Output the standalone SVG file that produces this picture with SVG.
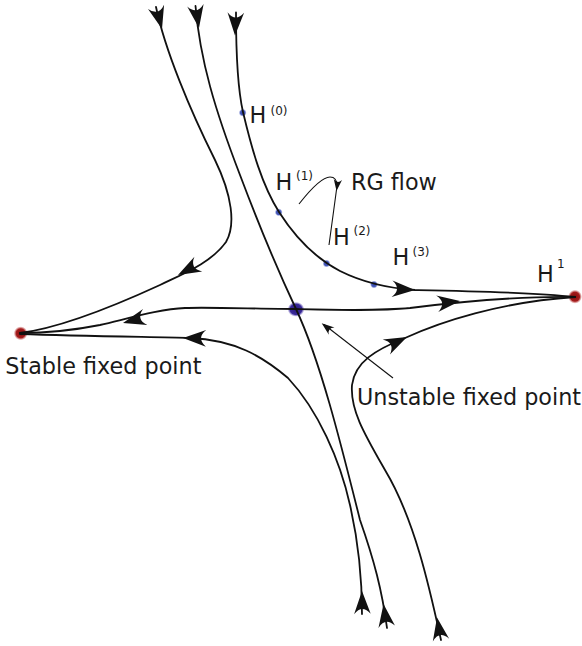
<svg xmlns="http://www.w3.org/2000/svg" xmlns:xlink="http://www.w3.org/1999/xlink" width="582" height="646" viewBox="0 0 582 646">
<style>
.flow{fill:none;stroke:#111;stroke-width:1.8;stroke-linecap:round}
.thin{fill:none;stroke:#111;stroke-width:1.1}
.head{fill:#111}
text{font-family:"DejaVu Sans","Noto Sans",sans-serif;fill:#1a1a1a}
.lbl{font-size:22.3px}
.sup{font-size:12px}
</style>
<defs>
<path id="ah" d="M0,0 L-23,-8.3 Q-13,0 -23,8.3 Z"/>
<radialGradient id="gRed">
<stop offset="0" stop-color="#8a0e0e"/>
<stop offset="0.65" stop-color="#a41c1c"/>
<stop offset="1" stop-color="#c85050" stop-opacity="0"/>
</radialGradient>
<radialGradient id="gBlue">
<stop offset="0" stop-color="#2a1a80"/>
<stop offset="0.7" stop-color="#3a2a9a"/>
<stop offset="1" stop-color="#7060c0" stop-opacity="0"/>
</radialGradient>
<radialGradient id="gSmall">
<stop offset="0" stop-color="#3448b0"/>
<stop offset="0.6" stop-color="#4a5cbc"/>
<stop offset="1" stop-color="#8a98d8" stop-opacity="0"/>
</radialGradient>
</defs>
<rect width="582" height="646" fill="#fff"/>

<g id="fp-stable"><circle cx="20.7" cy="333.3" r="7" fill="url(#gRed)"/></g>
<g id="fp-h1"><circle cx="575" cy="296.7" r="7" fill="url(#gRed)"/></g>
<g id="fp-unstable"><ellipse cx="296" cy="309.3" rx="8.5" ry="7.5" fill="url(#gBlue)"/></g>
<g id="pt-h0"><circle cx="242.7" cy="112.7" r="4" fill="url(#gSmall)"/></g>
<g id="pt-h1"><circle cx="278.7" cy="212.3" r="4" fill="url(#gSmall)"/></g>
<g id="pt-h2"><circle cx="326.5" cy="263.5" r="4" fill="url(#gSmall)"/></g>
<g id="pt-h3"><circle cx="374" cy="284.5" r="4" fill="url(#gSmall)"/></g>

<g id="connectors">
<path class="flow" d="M156,7 C165,50 190,110 215,160 C232,195 236,225 226,242 C212,262 185,273 160,285 C110,308 60,328 20,333"/>
<path class="flow" d="M195.5,6 C200,60 215,110 240,175 C260,228 280,275 296,309 C320,360 340,440 360,520 C374,560 382,590 387,628"/>
<path class="flow" d="M236,12.5 C236,60 238,90 243,112 C252,150 262,185 279,212 C295,237 315,258 340,271 C360,281 385,288 415,290 C470,291 530,292 575,297"/>
<path class="flow" d="M296,309 C260,309 210,307 185,308 C160,309 130,318 100,325 C70,331 40,333 20,333"/>
<path class="flow" d="M296,309 C340,310 380,311 410,308 C450,303 520,296 575,297"/>
<path class="flow" d="M20,334 C80,336 150,337 190,338 C235,340 262,356 288,378 C318,410 340,460 350,505 C358,540 362,575 362,614"/>
<path class="flow" d="M441,640 C430,590 415,520 385,470 C365,435 350,410 352,385 C355,362 375,350 405,338 C440,322 500,302 575,297"/>
<path class="thin" d="M299,204 C310,190 322,177 330,177 C336,177 337,182 337,186 L329,245"/>
<use href="#ah" class="head" transform="translate(336.5,191) rotate(97) scale(0.5)"/>
<path class="thin" d="M393,378 L324,324.5"/>
<use href="#ah" class="head" transform="translate(321.7,323.3) rotate(218) scale(0.55)"/>
<use href="#ah" class="head" transform="translate(162,29) rotate(75)"/>
<use href="#ah" class="head" transform="translate(199,28) rotate(81)"/>
<use href="#ah" class="head" transform="translate(235,35.5) rotate(92)"/>
<use href="#ah" class="head" transform="translate(178,275) rotate(152)"/>
<use href="#ah" class="head" transform="translate(123,323) rotate(165)"/>
<use href="#ah" class="head" transform="translate(183,338) rotate(181)"/>
<use href="#ah" class="head" transform="translate(415,290) rotate(3)"/>
<use href="#ah" class="head" transform="translate(460,301) rotate(-7)"/>
<use href="#ah" class="head" transform="translate(407,337) rotate(-26)"/>
<use href="#ah" class="head" transform="translate(362,591) rotate(-91)"/>
<use href="#ah" class="head" transform="translate(383.5,604) rotate(-98)"/>
<use href="#ah" class="head" transform="translate(437,617.5) rotate(-100)"/>
</g>

<g id="labels">
<text class="lbl" x="249.5" y="122.5">H<tspan class="sup" x="270.5" y="114.5">(0)</tspan></text>
<text class="lbl" x="275.5" y="190">H<tspan class="sup" x="296" y="179.5">(1)</tspan></text>
<text class="lbl" x="333" y="245">H<tspan class="sup" x="353.5" y="235">(2)</tspan></text>
<text class="lbl" x="392.5" y="265">H<tspan class="sup" x="412.5" y="255.5">(3)</tspan></text>
<text class="lbl" x="537" y="281.7">H<tspan class="sup" x="557" y="268">1</tspan></text>
<text class="lbl" x="351" y="190">RG flow</text>
<text class="lbl" x="5.3" y="374.3">Stable fixed point</text>
<text class="lbl" x="357" y="405.3">Unstable fixed point</text>
</g>
</svg>
